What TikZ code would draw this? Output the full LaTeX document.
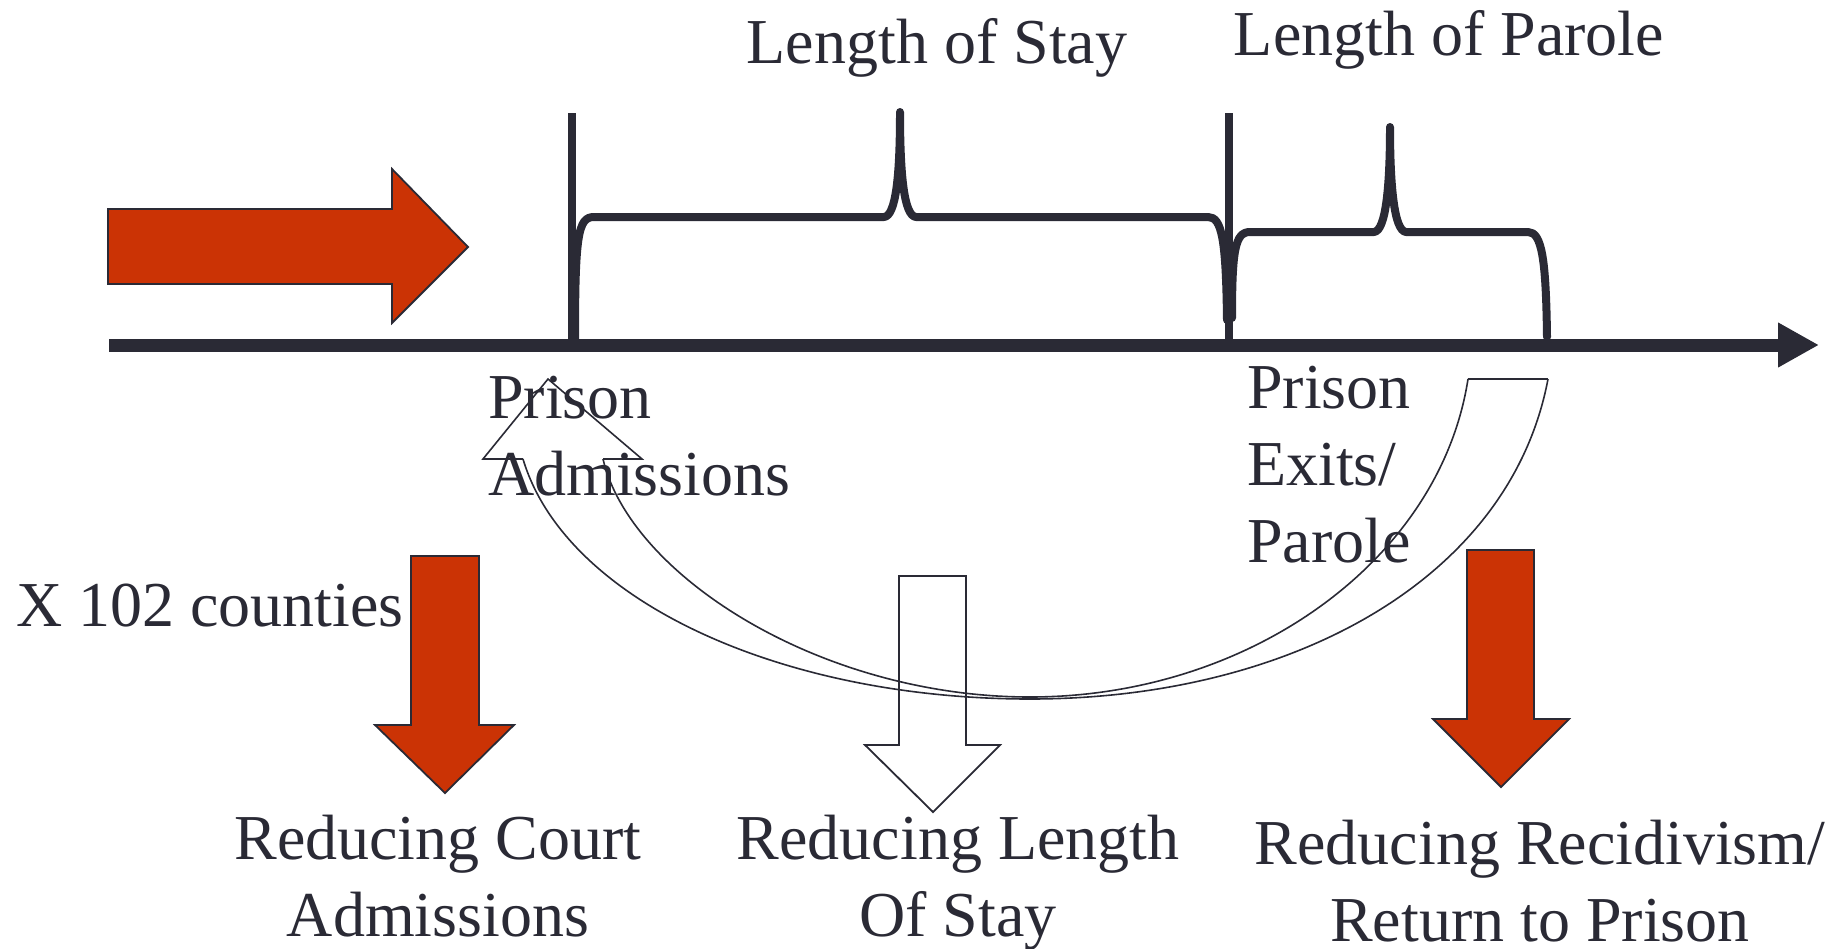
\documentclass[tikz,border=0pt]{standalone}
\usepackage{fontspec}
\setmainfont{Liberation Serif}
\usetikzlibrary{arrows.meta}
\definecolor{ink}{HTML}{2A2A35}
\definecolor{brick}{HTML}{CB3305}
\begin{document}
\begin{tikzpicture}[x=1pt,y=-1pt,
  lbl/.style={inner sep=0pt, text=ink, font=\fontsize{64}{77}\selectfont},
  timeline/.style={draw=ink, line width=13pt, -{Triangle[length=41pt,width=42pt]}},
  tickmark/.style={draw=ink, line width=7.5pt},
  bracket/.style={draw=ink, line width=8pt, line cap=round, line join=round},
  redarrow/.style={draw=ink, line width=1.8pt, fill=brick, line join=miter},
  openarrow/.style={draw=ink, line width=1.8pt, fill=white, line join=miter},
  ribbon/.style={draw=ink, line width=1.6pt, line join=miter},
]
\useasboundingbox (0,0) rectangle (1844,948);

% big red arrow into the system
\draw[redarrow] (108,209) -- (392,209) -- (392,169) -- (468,247) -- (392,323)
  -- (392,284) -- (108,284) -- cycle;

% timeline
\coordinate (axL) at (109,345);
\coordinate (axR) at (1819,345);
\draw[timeline] (axL) -- (axR);

% tick marks
\draw[tickmark] (572,113) -- (572,345);
\draw[tickmark] (1229,113) -- (1229,345);

% brace: length of stay
\draw[bracket] (575,340) .. controls (575,235) and (578,217) .. (594,217)
  -- (884,217) .. controls (896,216) and (900,175) .. (900,112)
  .. controls (900,175) and (904,216) .. (916,217)
  -- (1208,217) .. controls (1222,217) and (1226,240) .. (1227,320);

% brace: length of parole
\draw[bracket] (1232,318) .. controls (1232,250) and (1235,232) .. (1250,232)
  -- (1374,232) .. controls (1386,231) and (1390,185) .. (1390,127)
  .. controls (1390,185) and (1394,231) .. (1406,232)
  -- (1528,232) .. controls (1542,232) and (1546,260) .. (1547,337);

% down arrows
\draw[redarrow] (411,556) -- (479,556) -- (479,725) -- (514,725) -- (445,793)
  -- (375,725) -- (411,725) -- cycle;
\draw[openarrow] (899,576) -- (966,576) -- (966,745) -- (1000,745) -- (933,812)
  -- (865,745) -- (899,745) -- cycle;

% curved return arrow (outline ribbon)
\draw[ribbon] (1468,379) -- (1548,379);
\draw[ribbon] (523,459) -- (483,459) -- (548,379) -- (642,459) -- (603,459);
\draw[ribbon] (603,459) .. controls (630,575) and (820,697) .. (1030,697)
  .. controls (1250,697) and (1440,560) .. (1468,379);
\draw[ribbon] (523,459) .. controls (565,600) and (780,699) .. (1030,699)
  .. controls (1290,699) and (1510,580) .. (1548,379);

\draw[redarrow] (1467,550) -- (1534,550) -- (1534,719) -- (1569,719) -- (1501,787)
  -- (1433,719) -- (1467,719) -- cycle;

% labels (multi-line nodes: base anchor = last line's baseline)
\node[lbl, anchor=base] (stay) at (937,63) {Length of Stay};
\node[lbl, anchor=base] (parole) at (1449,55) {Length of Parole};
\node[lbl, anchor=base west, align=left] (admit) at (488,495) {Prison\\Admissions};
\node[lbl, anchor=base west, align=left] (exits) at (1247,562) {Prison\\Exits/\\Parole};
\node[lbl, anchor=base west] (counties) at (16,626) {X 102 counties};
\node[lbl, anchor=base, align=center] (court) at (438,936) {Reducing Court\\Admissions};
\node[lbl, anchor=base, align=center] (los) at (958,936) {Reducing Length\\Of Stay};
\node[lbl, anchor=base, align=center] (recid) at (1540,941) {Reducing Recidivism/\\Return to Prison};
\end{tikzpicture}
\end{document}
